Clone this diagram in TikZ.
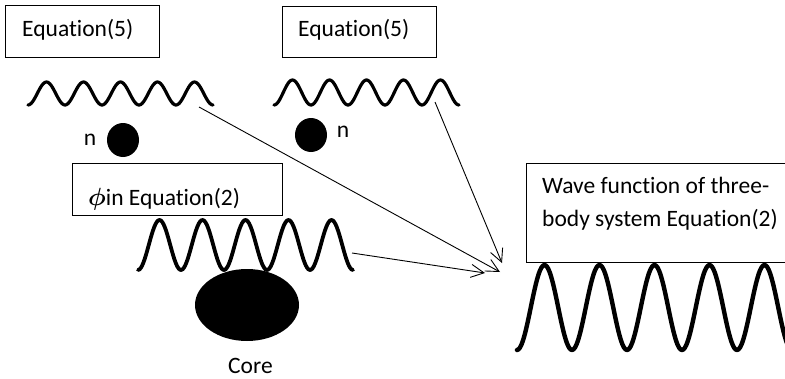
\documentclass[tikz,border=0pt]{standalone}
\usepackage{amsmath}
\usepackage{fontspec}
\setmainfont{Carlito}[Ligatures=NoCommon]
\usetikzlibrary{arrows.meta,shapes.geometric}
\tikzset{
  framebox/.style={draw=black, line width=1pt, inner sep=0pt, anchor=north west},
  label text/.style={inner sep=0pt, anchor=base west, font=\fontsize{23.5}{33}\selectfont},
  smallwave/.style={line width=3.2pt, line cap=round, line join=round},
  midwave/.style={line width=3.8pt, line cap=round, line join=round},
  bigwave/.style={line width=4.4pt, line cap=round, line join=round},
  particle/.style={fill=black, draw=none, ellipse},
  pointer/.style={line width=0.9pt, -{Straight Barb[length=13pt,width=13pt,line width=0.9pt]}},
}
\begin{document}
\begin{tikzpicture}[x=1pt,y=-1pt]
\clip (0,0) rectangle (785,378);
\fill[white] (0,0) rectangle (785,378);
% boxes
\node[framebox, minimum width=154pt, minimum height=52pt] (b1) at (5,5) {};
\node[label text] (t1) at (22,36) {Equation(5)};
\node[framebox, minimum width=154pt, minimum height=51pt] (b2) at (282,6) {};
\node[label text] (t2) at (298,36) {Equation(5)};
\node[framebox, minimum width=210pt, minimum height=52pt] (b3) at (72,163) {};
\node[label text] (t3) at (88,205) {$\boldsymbol{\phi}$in Equation(2)};
\node[framebox, minimum width=280pt, minimum height=99pt] (b4) at (526,163) {};
\node[label text] (t4a) at (542,193) {Wave function of three-};
\node[label text] (t4b) at (542,226) {body system Equation(2)};
% waves
\draw[smallwave] plot[domain=28:213, samples=160, smooth] (\x, {93.5+11.5*cos(360/37*(\x-28))});
\draw[smallwave] plot[domain=274:459, samples=160, smooth] (\x, {92.5+12.5*cos(360/37*(\x-274))});
\draw[midwave] plot[domain=138:353, samples=160, smooth] (\x, {245+25*cos(360/43*(\x-138))});
\draw[bigwave] plot[domain=517:800, samples=200, smooth] (\x, {307.5+42.5*cos(360/55*(\x-517))});
% particles
\node[particle, minimum width=32pt, minimum height=34pt, inner sep=0pt] (n1) at (123,140) {};
\node[label text, anchor=center] (n1l) at (90,140) {n};
\node[particle, minimum width=32pt, minimum height=34pt, inner sep=0pt] (n2) at (311,135) {};
\node[label text, anchor=center] (n2l) at (343,132) {n};
\node[particle, minimum width=104pt, minimum height=72pt, inner sep=0pt] (core) at (247,305) {};
\node[label text] (corel) at (228,373) {Core};
% connectors
\coordinate (sA) at (199,107);
\coordinate (sB) at (435,102);
\coordinate (sC) at (352,253);
\coordinate (eA) at (500,272);
\coordinate (eB) at (502,263);
\coordinate (eC) at (485,273);
\draw[pointer] (sA) -- (eA);
\draw[pointer] (sB) -- (eB);
\draw[pointer] (sC) -- (eC);
\end{tikzpicture}
\end{document}
